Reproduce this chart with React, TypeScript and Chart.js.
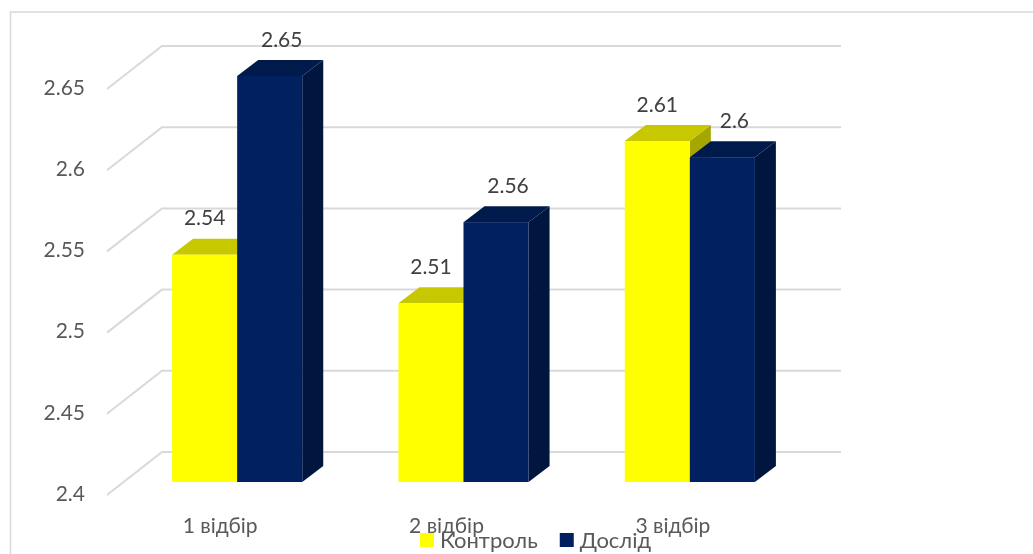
import React, { useEffect, useRef } from "react";
import { Chart, registerables } from "chart.js";

Chart.register(...registerables);

const categories = ["1 відбір", "2 відбір", "3 відбір"];
const seriesNames = ["Контроль", "Дослід"];
const controlValues = [2.54, 2.51, 2.61];
const experimentValues = [2.65, 2.56, 2.6];
const yTickValues = [2.4, 2.45, 2.5, 2.55, 2.6, 2.65];

const FRONT_COLORS = ["#FFFF00", "#002060"];
const TOP_COLORS = ["#C8C800", "#001A4C"];
const SIDE_COLORS = ["#A6A600", "#00163F"];
const LABEL_DX = [0, 12];

// 3D offsets (px) relative to the bar-front plane
const FRONT = { dx: -17, dy: 13 };
const BACK = { dx: 38, dy: -30 };
const DEPTH = { dx: 21, dy: -16 };

const FONT = "Lato, 'Open Sans', sans-serif";
const FS = 21;

const threeD = {
  id: "threeD",
  beforeDatasetsDraw(chart: any) {
    const ctx = chart.ctx;
    const y = chart.scales.y;
    const area = chart.chartArea;
    ctx.save();
    ctx.strokeStyle = "#D9D9D9";
    ctx.lineWidth = 2;
    yTickValues.forEach((v) => {
      const py = y.getPixelForValue(v);
      ctx.beginPath();
      ctx.moveTo(area.left + FRONT.dx, py + FRONT.dy);
      ctx.lineTo(area.left + BACK.dx, py + BACK.dy);
      ctx.lineTo(area.right + BACK.dx, py + BACK.dy);
      ctx.stroke();
    });
    const base = y.getPixelForValue(yTickValues[0]);
    const metas = [chart.getDatasetMeta(0), chart.getDatasetMeta(1)];
    for (let i = 0; i < categories.length; i++) {
      metas.forEach((meta, d) => {
        const el = meta.data[i];
        if (!el) return;
        const l = el.x - el.width / 2;
        const r = el.x + el.width / 2;
        const t = el.y;
        const b = base;
        // side
        ctx.fillStyle = SIDE_COLORS[d];
        ctx.beginPath();
        ctx.moveTo(r, t);
        ctx.lineTo(r + DEPTH.dx, t + DEPTH.dy);
        ctx.lineTo(r + DEPTH.dx, b + DEPTH.dy);
        ctx.lineTo(r, b);
        ctx.closePath();
        ctx.fill();
        // top
        ctx.fillStyle = TOP_COLORS[d];
        ctx.beginPath();
        ctx.moveTo(l, t);
        ctx.lineTo(l + DEPTH.dx, t + DEPTH.dy);
        ctx.lineTo(r + DEPTH.dx, t + DEPTH.dy);
        ctx.lineTo(r, t);
        ctx.closePath();
        ctx.fill();
        // front
        ctx.fillStyle = FRONT_COLORS[d];
        ctx.fillRect(l, t, r - l, b - t);
      });
    }
    ctx.restore();
    return false;
  },
  afterDraw(chart: any) {
    const ctx = chart.ctx;
    ctx.save();
    // outer border
    ctx.strokeStyle = "#D9D9D9";
    ctx.lineWidth = 1.5;
    ctx.strokeRect(10.5, 12, 1100, 600);
    // data labels
    ctx.font = `${FS}px ${FONT}`;
    ctx.fillStyle = "#404040";
    ctx.textAlign = "center";
    ctx.textBaseline = "middle";
    chart.data.datasets.forEach((ds: any, d: number) => {
      const meta = chart.getDatasetMeta(d);
      meta.data.forEach((el: any, i: number) => {
        const v = ds.data[i];
        ctx.fillText(String(v), el.x + LABEL_DX[d], el.y + DEPTH.dy - 20);
      });
    });
    // legend
    let lx = 420;
    const ly = 533;
    ctx.textAlign = "left";
    ctx.textBaseline = "alphabetic";
    chart.data.datasets.forEach((ds: any, d: number) => {
      ctx.fillStyle = FRONT_COLORS[d];
      ctx.fillRect(lx, ly, 14, 14);
      ctx.fillStyle = "#595959";
      ctx.font = `${FS + 1}px ${FONT}`;
      ctx.fillText(ds.label, lx + 20, ly + 15);
      lx += 20 + ctx.measureText(ds.label).width + 22;
    });
    ctx.restore();
  },
};

export default function App() {
  const ref = useRef<HTMLCanvasElement | null>(null);
  useEffect(() => {
    if (!ref.current) return;
    const chart = new Chart(ref.current, {
      type: "bar",
      data: {
        labels: categories,
        datasets: [
          { label: seriesNames[0], data: controlValues, backgroundColor: FRONT_COLORS[0] },
          { label: seriesNames[1], data: experimentValues, backgroundColor: FRONT_COLORS[1] },
        ],
      },
      options: {
        responsive: false,
        animation: false,
        devicePixelRatio: 1,
        layout: { padding: { left: 0, right: 230, top: 76, bottom: 0 } },
        datasets: { bar: { categoryPercentage: 0.575, barPercentage: 1 } },
        plugins: { legend: { display: false }, tooltip: { enabled: false } },
        scales: {
          x: {
            grid: { display: false, drawTicks: false },
            border: { display: false },
            ticks: {
              font: { family: FONT, size: FS },
              color: "#595959",
              padding: 32,
              labelOffset: FRONT.dx,
              maxRotation: 0,
            },
            afterFit: (s: any) => {
              s.height = 72;
            },
          },
          y: {
            min: 2.4,
            max: 2.65,
            grid: { display: false, drawTicks: false },
            border: { display: false },
            afterBuildTicks: (s: any) => {
              s.ticks = yTickValues.map((v) => ({ value: v }));
            },
            ticks: {
              font: { family: FONT, size: FS },
              color: "#595959",
              padding: 39,
              labelOffset: 12,
              callback: (v: any) => String(Number(v)),
            },
            afterFit: (s: any) => {
              s.width = 124;
            },
          },
        },
      },
      plugins: [threeD],
    });
    return () => chart.destroy();
  }, []);
  return (
    <div style={{ position: "fixed", left: 0, top: 0, width: 1033, height: 554, background: "#fff" }}>
      <canvas ref={ref} width={1033} height={554} style={{ display: "block", width: 1033, height: 554 }} />
    </div>
  );
}
